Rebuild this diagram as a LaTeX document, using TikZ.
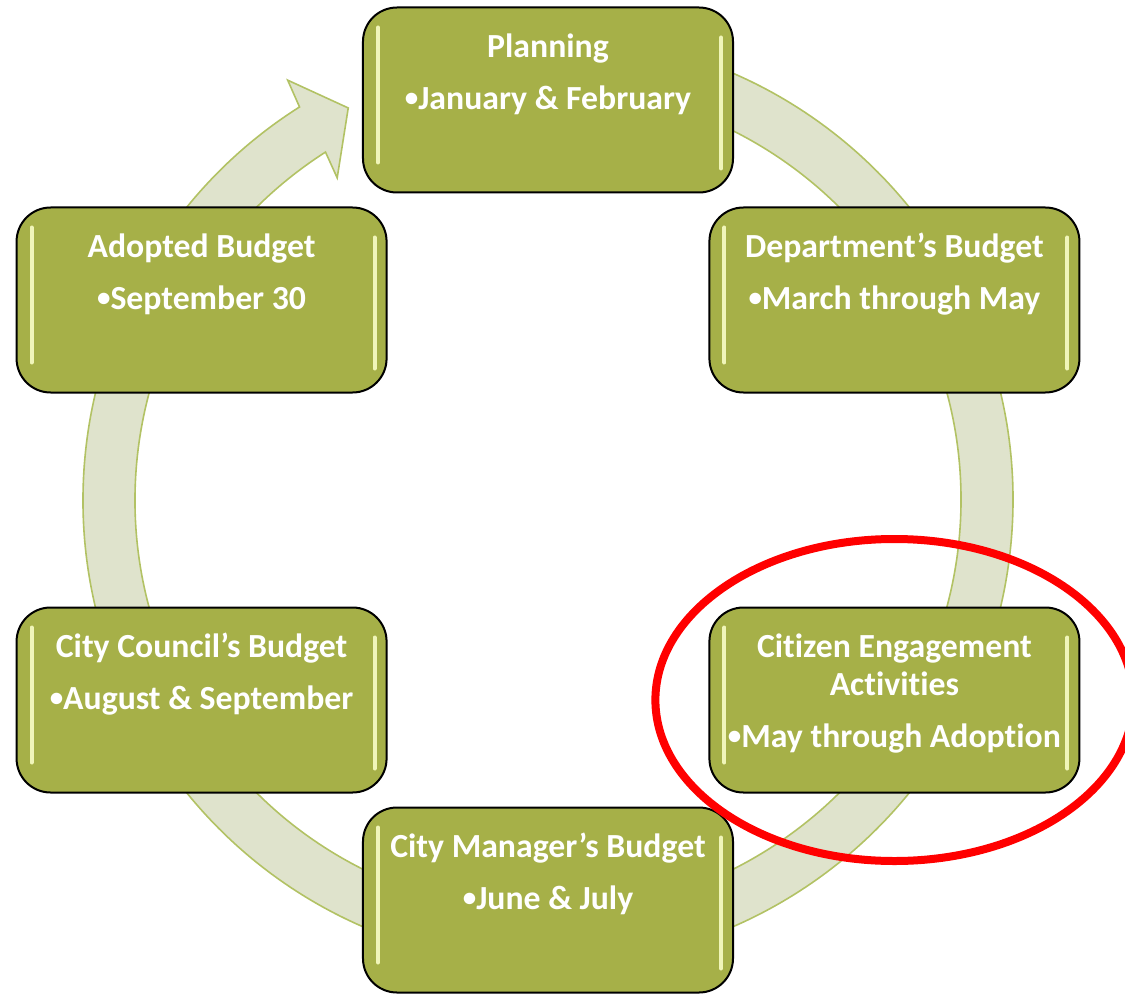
\documentclass[tikz,border=0pt]{standalone}
\usepackage{fontspec}
\setmainfont{Carlito}[Ligatures=NoCommon]

\definecolor{stagegreen}{RGB}{166,176,72}
\definecolor{ringfill}{RGB}{223,227,204}
\definecolor{ringedge}{RGB}{178,194,100}
\definecolor{shine}{RGB}{240,245,185}

\newcommand{\stagetext}[2]{%
  \begin{minipage}[t][4.625cm][t]{9.25cm}
    \centering\fontsize{24}{27}\selectfont\bfseries
    \rule{0pt}{1.25cm}#1\\[0.35cm]
    \raisebox{0.08em}{\scalebox{0.8}{•}}#2
  \end{minipage}}

\begin{document}
\begin{tikzpicture}[
  stage node/.style={draw=black, line width=0.05cm, fill=stagegreen, rounded corners=0.85cm,
    inner sep=0pt, text=white,
    path picture={
      \draw[draw=shine, line width=0.1cm, line cap=round]
        ([xshift=0.375cm,yshift=-0.5cm]path picture bounding box.north west)
          -- ([xshift=0.375cm,yshift=0.75cm]path picture bounding box.south west)
        ([xshift=-0.3cm,yshift=-0.75cm]path picture bounding box.north east)
          -- ([xshift=-0.3cm,yshift=0.6cm]path picture bounding box.south east);
    }},
  cycle arrow/.style={fill=ringfill, draw=ringedge, line width=0.04cm, line join=miter},
  focus ring/.style={draw=red, line width=0.2cm}]

\useasboundingbox (-13.7,-12.325) rectangle (14.425,12.5);

\filldraw[cycle arrow] (85:11.625) arc[start angle=85, end angle=-237.7, radius=11.625]
  -- (121.8:12.35) -- (117:11) -- (123.2:9.625) -- (-237.4:10.325)
  arc[start angle=-237.4, end angle=85, radius=10.325] -- cycle;

\node[stage node] (plan) at (90:10) {\stagetext{Planning}{January \& February}};
\node[stage node] (dept) at (30:10) {\stagetext{Department’s Budget}{March through May}};
\node[stage node] (citizen) at (-30:10) {\stagetext{Citizen Engagement\\Activities}{May through Adoption}};
\node[stage node] (manager) at (-90:10) {\stagetext{City Manager’s Budget}{June \& July}};
\node[stage node] (council) at (210:10) {\stagetext{City Council’s Budget}{August \& September}};
\node[stage node] (adopted) at (150:10) {\stagetext{Adopted Budget}{September 30}};

\draw[focus ring] (citizen.center) ellipse [x radius=5.975cm, y radius=4.025cm];
\end{tikzpicture}
\end{document}
